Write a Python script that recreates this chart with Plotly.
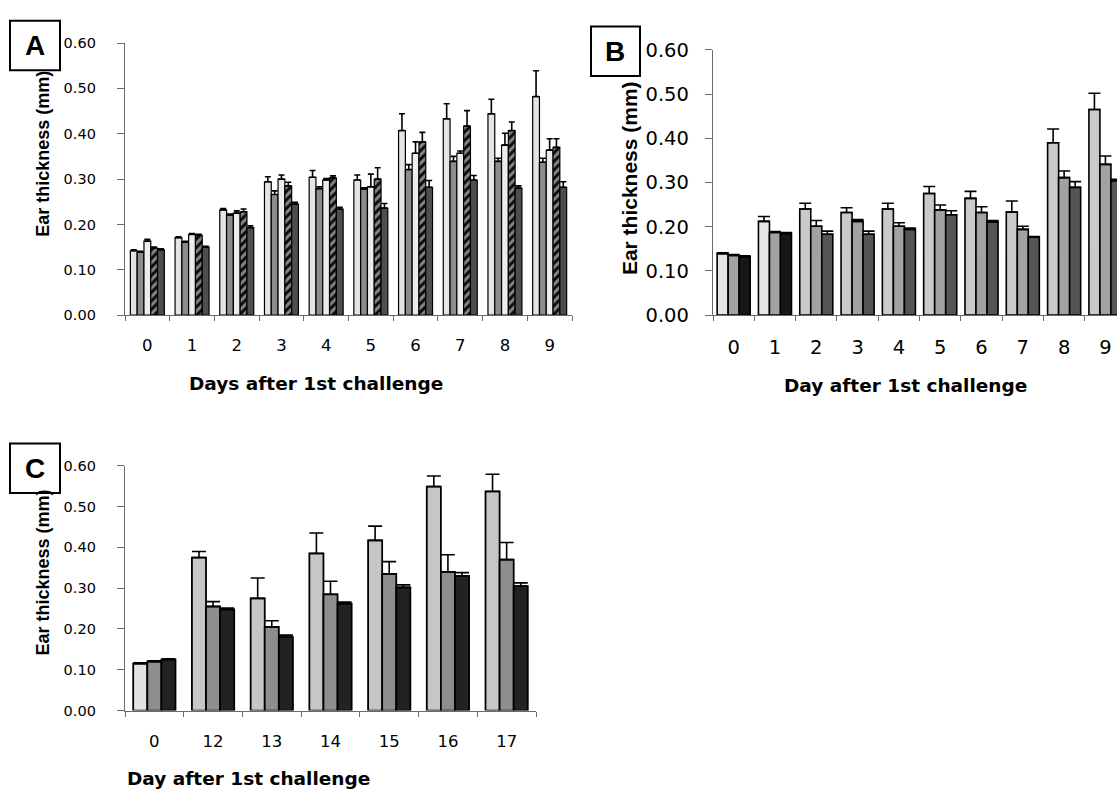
import plotly.graph_objects as go

W, H = 1117, 811

# ---------------- data ----------------
days_a = ["0", "1", "2", "3", "4", "5", "6", "7", "8", "9"]
a_s1 = [0.142, 0.171, 0.232, 0.294, 0.304, 0.298, 0.407, 0.433, 0.444, 0.482]
a_e1 = [0.002, 0.002, 0.003, 0.011, 0.015, 0.011, 0.037, 0.033, 0.032, 0.057]
a_s2 = [0.139, 0.161, 0.221, 0.266, 0.279, 0.278, 0.321, 0.339, 0.339, 0.337]
a_e2 = [0.002, 0.002, 0.002, 0.008, 0.004, 0.003, 0.011, 0.011, 0.007, 0.009]
a_s3 = [0.163, 0.178, 0.225, 0.300, 0.298, 0.283, 0.357, 0.357, 0.375, 0.364]
a_e3 = [0.004, 0.002, 0.005, 0.009, 0.003, 0.028, 0.025, 0.005, 0.026, 0.025]
a_s4 = [0.148, 0.176, 0.228, 0.285, 0.303, 0.300, 0.382, 0.417, 0.407, 0.370]
a_e4 = [0.002, 0.002, 0.006, 0.008, 0.004, 0.025, 0.021, 0.034, 0.019, 0.019]
a_s5 = [0.144, 0.150, 0.193, 0.245, 0.234, 0.236, 0.282, 0.298, 0.280, 0.282]
a_e5 = [0.002, 0.002, 0.004, 0.004, 0.004, 0.010, 0.015, 0.010, 0.005, 0.012]

days_b = ["0", "1", "2", "3", "4", "5", "6", "7", "8", "9"]
b_s1 = [0.139, 0.212, 0.240, 0.232, 0.240, 0.275, 0.264, 0.233, 0.390, 0.465]
b_e1 = [0.002, 0.011, 0.013, 0.011, 0.013, 0.016, 0.016, 0.025, 0.031, 0.037]
b_s2 = [0.135, 0.187, 0.201, 0.212, 0.201, 0.238, 0.232, 0.194, 0.311, 0.341]
b_e2 = [0.002, 0.002, 0.013, 0.004, 0.008, 0.011, 0.013, 0.007, 0.015, 0.019]
b_s3 = [0.132, 0.185, 0.183, 0.183, 0.194, 0.227, 0.211, 0.176, 0.289, 0.304]
b_e3 = [0.002, 0.002, 0.007, 0.007, 0.003, 0.009, 0.003, 0.002, 0.013, 0.003]

days_c = ["0", "12", "13", "14", "15", "16", "17"]
c_s1 = [0.115, 0.375, 0.275, 0.385, 0.417, 0.549, 0.537]
c_e1 = [0.002, 0.015, 0.050, 0.050, 0.035, 0.026, 0.042]
c_s2 = [0.120, 0.255, 0.205, 0.285, 0.335, 0.340, 0.370]
c_e2 = [0.002, 0.012, 0.015, 0.032, 0.030, 0.042, 0.042]
c_s3 = [0.125, 0.248, 0.180, 0.262, 0.302, 0.330, 0.305]
c_e3 = [0.002, 0.003, 0.005, 0.004, 0.006, 0.008, 0.008]

y_ticks = [0.0, 0.1, 0.2, 0.3, 0.4, 0.5, 0.6]
y_title = "Ear thickness (mm)"
x_title_a = "Days after 1st challenge"
x_title_bc = "Day after 1st challenge"

# ---------------- styles ----------------
b_col3 = ["#161616", "#161616"] + ["#555555"] * 8
b_col1 = ["#e6e6e6", "#e6e6e6"] + ["#cacaca"] * 8
c_col1 = ["#e2e2e2"] + ["#c6c6c6"] * 6


def px(x):
    return x / W


def py(y):
    return (H - y) / H


fig = go.Figure()


def add_bar(x, y, err, xa, ya, color, ew, lw=1.2, pattern=None):
    marker = dict(color=color, line=dict(color="black", width=lw))
    if pattern is not None:
        marker["pattern"] = pattern
    fig.add_trace(go.Bar(
        x=x, y=y, xaxis=xa, yaxis=ya, marker=marker, showlegend=False,
        error_y=dict(type="data", array=err, arrayminus=[0] * len(err),
                     symmetric=False, color="black", thickness=1.6, width=ew),
    ))


hatch = dict(shape="/", fgcolor="white", bgcolor="#0c0c0c", size=6, solidity=0.5)

# Panel A
add_bar(days_a, a_s1, a_e1, "x", "y", "#e4e4e4", 3)
add_bar(days_a, a_s2, a_e2, "x", "y", "#8c8c8c", 3)
add_bar(days_a, a_s3, a_e3, "x", "y", "#ececec", 3)
add_bar(days_a, a_s4, a_e4, "x", "y", "#0c0c0c", 3, pattern=hatch)
add_bar(days_a, a_s5, a_e5, "x", "y", "#4e4e4e", 3)

# Panel B
add_bar(days_b, b_s1, b_e1, "x2", "y2", b_col1, 6, lw=1.6)
add_bar(days_b, b_s2, b_e2, "x2", "y2", "#a2a2a2", 6, lw=1.6)
add_bar(days_b, b_s3, b_e3, "x2", "y2", b_col3, 6, lw=1.6)

# Panel C
add_bar(days_c, c_s1, c_e1, "x3", "y3", c_col1, 7, lw=1.8)
add_bar(days_c, c_s2, c_e2, "x3", "y3", "#8e8e8e", 7, lw=1.8)
add_bar(days_c, c_s3, c_e3, "x3", "y3", "#222222", 7, lw=1.8)

ytickfont_s = dict(family="DejaVu Sans", size=14.5, color="black")
xtickfont_s = dict(family="DejaVu Sans", size=16.5, color="black")
tickfont_b = dict(family="DejaVu Sans", size=19.5, color="black")


def xaxis(domain, anchor, rng, font, standoff):
    return dict(domain=domain, anchor=anchor, type="category", range=rng,
                showline=True, linecolor="#6a6a6a", linewidth=1.4,
                ticks="outside", tickson="boundaries", ticklen=5,
                tickcolor="#6a6a6a", tickwidth=1.2, tickfont=font,
                ticklabelstandoff=standoff, showgrid=False, zeroline=False)


def yaxis(domain, anchor, font, standoff):
    return dict(domain=domain, anchor=anchor, range=[0, 0.6],
                tickvals=y_ticks, tickformat=".2f",
                showline=True, linecolor="#6a6a6a", linewidth=1.4,
                ticks="outside", ticklen=7, tickcolor="#6a6a6a", tickwidth=1.2,
                tickfont=font, ticklabelstandoff=standoff,
                showgrid=False, zeroline=False)


fig.update_layout(
    width=W, height=H, margin=dict(l=0, r=0, t=0, b=0),
    paper_bgcolor="white", plot_bgcolor="white",
    barmode="group", bargroupgap=0.0,
    xaxis=xaxis([px(125), px(572)], "y", [-0.5, 9.5], xtickfont_s, 15),
    yaxis=yaxis([py(313), py(33)], "x", ytickfont_s, 18),
    xaxis2=xaxis([px(713), 1.0], "y2", [-0.5, 9.28], tickfont_b, 14),
    yaxis2=yaxis([py(313), py(40)], "x2", tickfont_b, 12),
    xaxis3=xaxis([px(125), px(536)], "y3", [-0.5, 6.5], xtickfont_s, 15),
    yaxis3=yaxis([py(720), py(468)], "x3", ytickfont_s, 18),
)

for tr in fig.data:
    if tr.xaxis == "x":
        tr.width = 0.76 / 5
    elif tr.xaxis == "x2":
        tr.width = 0.80 / 3
    else:
        tr.width = 0.72 / 3


def set_offsets(axis, n):
    trs = [t for t in fig.data if t.xaxis == axis]
    w = trs[0].width
    for i, t in enumerate(trs):
        t.offset = -n * w / 2 + i * w


set_offsets("x", 5)
set_offsets("x2", 3)
set_offsets("x3", 3)

title_font = dict(family="DejaVu Sans", size=18.5, color="black")
ytitle_font = dict(family="Liberation Sans", size=18, color="black")

ann = []
ann.append(dict(x=px(316), y=py(383), text="<b>%s</b>" % x_title_a, font=title_font))
ann.append(dict(x=px(905), y=py(385), text="<b>%s</b>" % x_title_bc, font=title_font))
ann.append(dict(x=px(248), y=py(790), text="<b>%s</b>" % x_title_bc, font=title_font))
ann.append(dict(x=px(43), y=py(147), text="<b>%s</b>" % y_title, font=ytitle_font, textangle=-90))
ann.append(dict(x=px(629), y=py(172), text="<b>%s</b>" % y_title,
                font=dict(family="Liberation Sans", size=21, color="black"), textangle=-90))
ann.append(dict(x=px(43), y=py(578), text="<b>%s</b>" % y_title, font=ytitle_font, textangle=-90))
letter_font = dict(family="Liberation Sans", size=28, color="black")
for lab, cx, cy in [("A", 35, 36), ("B", 615, 42), ("C", 35, 471)]:
    ann.append(dict(x=px(cx), y=py(cy), text="<b>%s</b>" % lab, font=letter_font))

for a in ann:
    a.update(xref="paper", yref="paper", showarrow=False, xanchor="center", yanchor="middle")
fig.update_layout(annotations=ann)

shapes = []
for x0, y0, x1, y1 in [(10, 10, 60, 61), (591, 16, 640, 67), (10, 445, 60, 496)]:
    shapes.append(dict(type="rect", xref="paper", yref="paper",
                       x0=px(x0), x1=px(x1), y0=py(y1), y1=py(y0),
                       line=dict(color="black", width=2)))
fig.update_layout(shapes=shapes)

fig.write_html("out.html",
               config={"displayModeBar": False},
               post_script="document.body.style.margin='0px';"
                           "document.body.style.overflow='hidden';")
